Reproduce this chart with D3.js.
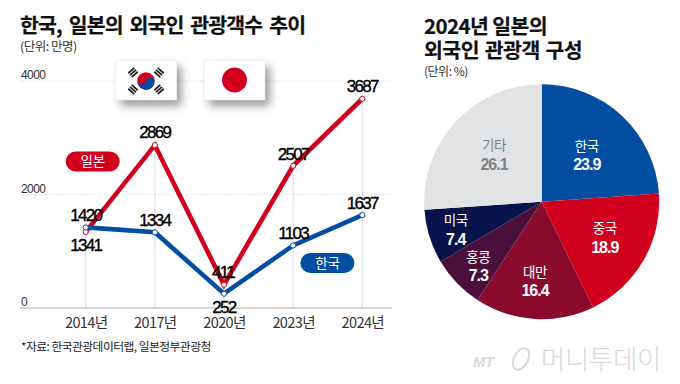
<!DOCTYPE html>
<html><head><meta charset="utf-8">
<script src="https://cdn.jsdelivr.net/npm/d3@7"></script>
<style>html,body{margin:0;background:#fff}svg{display:block;font-family:"Noto Sans CJK KR","Liberation Sans",sans-serif}</style>
</head><body><svg id="c" width="680" height="384"></svg>
<script>
const years=["2014년","2017년","2020년","2023년","2024년"];
const japan=[1341,2869,411,2507,3687];
const korea=[1420,1334,252,1103,1637];
const yTicks=[0,2000,4000];
const pieNames=["한국","중국","대만","홍콩","미국","기타"];
const pieValues=[23.9,18.9,16.4,7.3,7.4,26.1];
const pieColors=["#034ea2","#d2001f","#8a0a2c","#4a0f3a","#07134a","#e2e3e5"];
const pieText=["#fff","#fff","#fff","#fff","#fff","#808285"];

const svg=d3.select("#c");
const defs=svg.append("defs");
const f=defs.append("filter").attr("id","sh").attr("x","-30%").attr("y","-30%").attr("width","170%").attr("height","190%");
f.append("feDropShadow").attr("dx",5).attr("dy",6).attr("stdDeviation",4.5).attr("flood-color","#000").attr("flood-opacity",.38);
const RED="#d2001f",BLUE="#034ea2",INK="#111";
const NUM='"Liberation Sans",sans-serif';
const txt=(x,y,s,size,o={})=>svg.append("text").attr("x",x).attr("y",y).text(s).attr("font-size",size)
  .attr("font-weight",o.w||400).attr("fill",o.c||INK).attr("text-anchor",o.a||"start").attr("letter-spacing",o.ls||0)
  .attr("word-spacing",o.ws||0);

txt(20,32.5,"한국, 일본의 외국인 관광객수 추이",20.5,{w:700,ls:-.85,ws:3}).attr("stroke",INK).attr("stroke-width",.2);
txt(20,51,"(단위: 만명)",12.5,{c:"#333",ls:-.5});
txt(424,33.5,"2024년 일본의",20.5,{w:700,ls:-.6}).attr("stroke",INK).attr("stroke-width",.2);
txt(424,57.5,"외국인 관광객 구성",20.5,{w:700,ls:-.5,ws:1.5}).attr("stroke",INK).attr("stroke-width",.2);
txt(424,76,"(단위: %)",12,{c:"#333",ls:-.5});

const x=d3.scalePoint().domain(years).range([85.7,362.3]);
const y=d3.scaleLinear().domain([0,4000]).range([308,81]);

// grid
svg.append("g").selectAll("line").data(yTicks.slice(1)).join("line")
  .attr("x1",20).attr("x2",392).attr("y1",y).attr("y2",y)
  .attr("stroke","#d9d9d9").attr("stroke-width",.8).attr("stroke-dasharray","1.5 1.5");
svg.append("g").selectAll("line").data(years).join("line")
  .attr("x1",x).attr("x2",x).attr("y1",(d,i)=>y(Math.max(japan[i],korea[i]))).attr("y2",y(0))
  .attr("stroke","#d4d4d4").attr("stroke-width",.8);
const axis=svg.append("g").attr("transform",`translate(0,${y(0)})`)
  .call(d3.axisBottom(x).tickSize(0).tickPadding(9.7));
axis.select(".domain").remove();
svg.append("line").attr("x1",20).attr("x2",392).attr("y1",y(0)).attr("y2",y(0)).attr("stroke","#aaa").attr("stroke-width",1);
axis.selectAll("text").attr("font-size",14.5).attr("fill","#333").attr("letter-spacing",-.6)
  .attr("font-family",'"Noto Sans CJK KR","Liberation Sans",sans-serif');
svg.append("g").selectAll("text").data(yTicks).join("text")
  .attr("x",21).attr("y",d=>y(d)-2).attr("font-size",12).attr("fill","#333").attr("letter-spacing",-.6)
  .attr("font-family",NUM).text(d=>d);

// flags
function flag(fx){return svg.append("g").attr("transform",`translate(${fx},60)`);}
const fw=61,fh=40;
const kf=flag(115.5);
kf.append("rect").attr("width",fw).attr("height",fh).attr("fill","#fff").attr("filter","url(#sh)");
kf.append("rect").attr("width",fw).attr("height",fh).attr("fill","#fff").attr("stroke","#e8e8e8").attr("stroke-width",.6);
const kc=kf.append("g").attr("transform",`translate(${fw/2},${fh/2+1})`);
kc.append("circle").attr("r",8.7).attr("fill","#d2001f");
kc.append("path").attr("d","M-8.7 0A8.7 8.7 0 0 0 8.7 0A4.35 4.35 0 0 0 0 0A4.35 4.35 0 0 1 -8.7 0Z").attr("fill","#034ea2").attr("transform","rotate(10)");
[[-1,-1],[1,-1],[-1,1],[1,1]].forEach(([a,b])=>{
  const g=kc.append("g").attr("transform",`translate(${a*13},${b*8.5}) rotate(${a*b*-42+90})`);
  [-2.6,0,2.6].forEach(v=>g.append("rect").attr("x",v-.9).attr("y",-4).attr("width",1.8).attr("height",8).attr("fill","#222"));
});
const jf=flag(204);
jf.append("rect").attr("width",fw).attr("height",fh).attr("fill","#fff").attr("filter","url(#sh)");
jf.append("rect").attr("width",fw).attr("height",fh).attr("fill","#fff").attr("stroke","#e8e8e8").attr("stroke-width",.6);
jf.append("circle").attr("cx",fw/2).attr("cy",fh/2).attr("r",12.5).attr("fill",RED);

// lines
const line=d3.line().x((d,i)=>x(years[i])).y(d=>y(d));
function series(vals,col){
  svg.append("path").attr("d",line(vals)).attr("fill","none").attr("stroke",col).attr("stroke-width",4.6).attr("stroke-linejoin","miter");
}
function dots(vals,col){
  svg.append("g").selectAll("circle").data(vals).join("circle")
   .attr("cx",(d,i)=>x(years[i])).attr("cy",d=>y(d)).attr("r",2.6).attr("fill","#fff").attr("stroke",col).attr("stroke-width",1);
}
series(japan,RED);series(korea,BLUE);dots(japan,RED);dots(korea,BLUE);

// value labels
const jOff=[[0,19.5],[0,-7],[-1,-7],[0,-6],[0,-6.5]];
const kOff=[[0,-6],[0,-6],[0,19],[0,-6],[0,-6.5]];
const lab=(vals,off)=>vals.forEach((v,i)=>txt(x(years[i])+off[i][0],y(v)+off[i][1],v,17,{a:"middle",ls:-1.7,c:"#000"})
   .attr("font-family",NUM).attr("stroke","#000").attr("stroke-width",.35));
lab(japan,jOff);lab(korea,kOff);

// pills
function pill(cx,cy,s,col){
  svg.append("rect").attr("x",cx-27).attr("y",cy-10).attr("width",54).attr("height",20).attr("rx",10).attr("fill",col);
  txt(cx,cy+4.8,s,13.5,{c:"#fff",a:"middle",ls:-.3});
}
pill(92.7,161.5,"일본",RED);
pill(327.4,263,"한국",BLUE);

// source
txt(21,350.5,"*자료: 한국관광데이터랩, 일본정부관광청",11.8,{c:"#222",ls:-.55});

// pie
const pie=d3.pie().sort(null).value(d=>d)(pieValues);
const arc=d3.arc().innerRadius(0).outerRadius(117.5);
const pg=svg.append("g").attr("transform","translate(541.7,201.7)");
pg.selectAll("path").data(pie).join("path").attr("d",arc).attr("fill",(d,i)=>pieColors[i]);
const pieLabelAt=[[45,-45],[63,37.6],[-6.7,81],[-63.4,66],[-86,29.3],[-47.7,-45.7]];
pie.forEach((d,i)=>{
  const g=pg.append("g").attr("transform",`translate(${pieLabelAt[i][0]},${pieLabelAt[i][1]})`);
  g.append("text").attr("text-anchor","middle").attr("y",-6).attr("font-size",13.5).attr("fill",pieText[i]).attr("letter-spacing",-.4).text(pieNames[i]);
  g.append("text").attr("text-anchor","middle").attr("y",13.5).attr("font-size",16).attr("font-weight",700).attr("fill",pieText[i]).attr("letter-spacing",-1).attr("font-family",NUM).text(pieValues[i]);
});

// watermark
txt(473,367,"MT",14.5,{c:"#d8d8d8",w:700}).attr("font-style","italic").attr("font-family",NUM);
svg.append("ellipse").attr("cx",521).attr("cy",359).attr("rx",7).attr("ry",11.5).attr("fill","none").attr("stroke","#d8d8d8").attr("stroke-width",2).attr("transform","rotate(28 521 359)");
txt(541,369,"머니투데이",26.5,{c:"#d8d8d8",w:300,ls:-.4});
</script></body></html>
